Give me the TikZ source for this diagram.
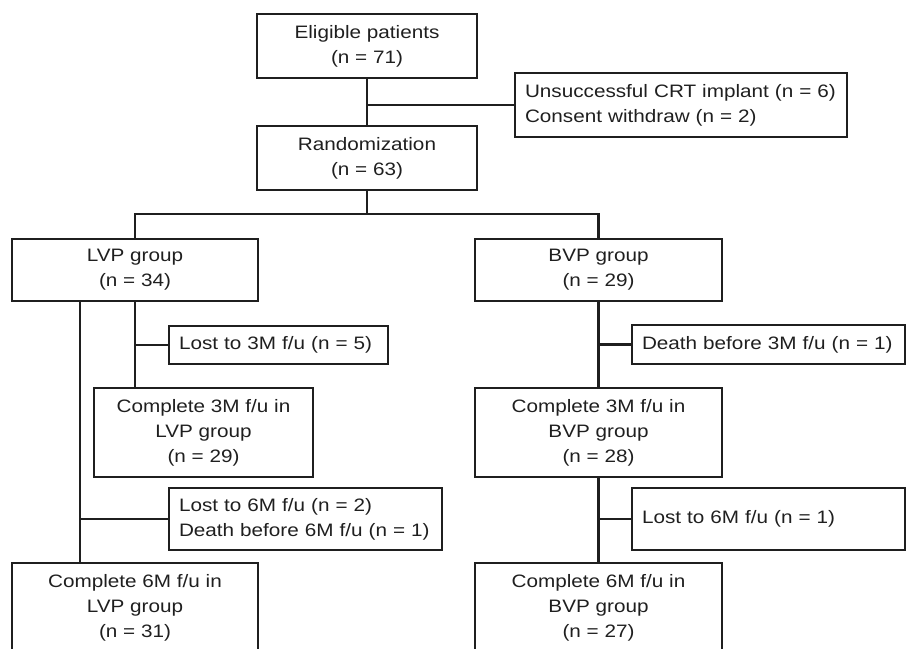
\documentclass[tikz,border=0pt]{standalone}
\usepackage{fontspec}
\setmainfont{Liberation Sans}[FakeStretch=1.15]

\tikzset{
    box/.style={draw, line width=2.9pt, align=center, inner sep=0pt,
        font=\fontsize{18}{25}\selectfont},
    sidebox/.style={box, align=left},
    link/.style={line width=2.9pt},
}

\begin{document}
\begin{tikzpicture}[x=1pt, y=-1pt, black!88]
        % Page frame
        \useasboundingbox (0,0) rectangle (907,648);
        \clip (0,0) rectangle (907,648);

        % Enrolment
        \node[box, minimum width=220pt, minimum height=64pt] (elig) at (367,46)
            {Eligible patients\\(n = 71)};
        \node[sidebox, minimum width=332pt, minimum height=64pt, text width=312pt] (excl) at (681,105)
            {Unsuccessful CRT implant (n = 6)\\Consent withdraw (n = 2)};
        \node[box, minimum width=220pt, minimum height=64pt] (rand) at (367,158)
            {Randomization\\(n = 63)};

        % Groups
        \node[box, minimum width=246pt, minimum height=62pt] (lvp) at (135,270)
            {LVP group\\(n = 34)};
        \node[box, minimum width=247pt, minimum height=62pt] (bvp) at (598.5,270)
            {BVP group\\(n = 29)};

        % 3 month follow-up
        \node[sidebox, minimum width=219pt, minimum height=38pt, text width=199pt] (lost3) at (278.5,345)
            {Lost to 3M f/u (n = 5)};
        \node[box, minimum width=219pt, minimum height=89pt] (c3l) at (203.5,432.5)
            {Complete 3M f/u in\\LVP group\\(n = 29)};
        \node[sidebox, minimum width=273pt, minimum height=39pt, text width=253pt] (death3) at (768.5,344.5)
            {Death before 3M f/u (n = 1)};
        \node[box, minimum width=247pt, minimum height=89pt] (c3b) at (598.5,432.5)
            {Complete 3M f/u in\\BVP group\\(n = 28)};

        % 6 month follow-up
        \node[sidebox, minimum width=273pt, minimum height=62pt, text width=253pt] (lost6l) at (305.5,519)
            {Lost to 6M f/u (n = 2)\\Death before 6M f/u (n = 1)};
        \node[sidebox, minimum width=273pt, minimum height=62pt, text width=253pt] (lost6b) at (768.5,519)
            {Lost to 6M f/u (n = 1)};
        \node[box, minimum width=246pt, minimum height=89pt] (c6l) at (135,607.5)
            {Complete 6M f/u in\\LVP group\\(n = 31)};
        \node[box, minimum width=247pt, minimum height=89pt] (c6b) at (598.5,607.5)
            {Complete 6M f/u in\\BVP group\\(n = 27)};

        % Connectors
        \draw[link] (elig) -- (rand);
        \draw[link] (elig.south |- excl.west) -- (excl.west);

        \coordinate (split) at (367,214);
        \draw[link] (rand) -- (split);
        \draw[link] (lvp.north) -- (lvp.north |- split) -- (bvp.north |- split) -- (bvp.north);

        \draw[link] (lvp.south) -- (lvp.south |- c3l.north);
        \draw[link] (lvp.south |- lost3.west) -- (lost3.west);

        \coordinate (lvp6) at (80,301);
        \draw[link] (lvp6) -- (lvp6 |- c6l.north);
        \draw[link] (lvp6 |- lost6l.west) -- (lost6l.west);

        \draw[link] (bvp) -- (c3b);
        \draw[link] (bvp.south |- death3.west) -- (death3.west);
        \draw[link] (c3b) -- (c6b);
        \draw[link] (c3b.south |- lost6b.west) -- (lost6b.west);
    \end{tikzpicture}
\end{document}
